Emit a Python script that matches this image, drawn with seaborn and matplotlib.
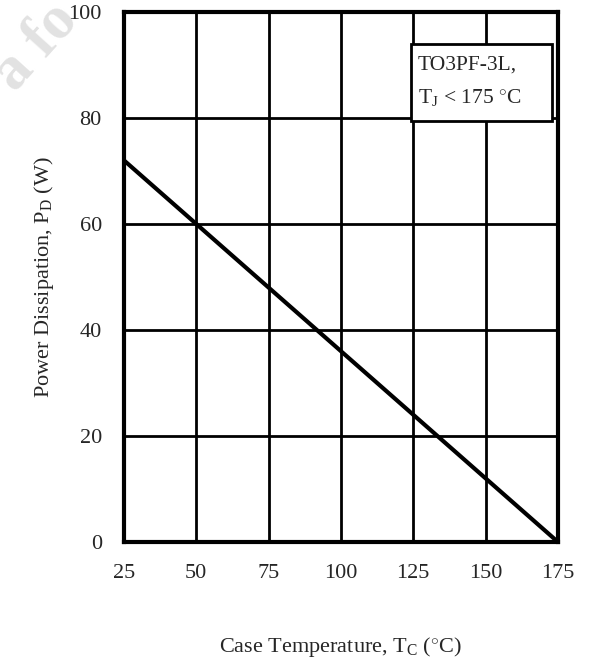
import matplotlib
matplotlib.use('Agg')
import matplotlib.pyplot as plt
import matplotlib.patches as mpatches
import seaborn as sns
import pandas as pd

case_temp = [25, 175]
power_diss = [72, 0]
x_ticks = [25, 50, 75, 100, 125, 150, 175]
y_ticks = [0, 20, 40, 60, 80, 100]

sns.set_style('white')
plt.rcParams['font.family'] = ['Liberation Serif', 'DejaVu Serif']
plt.rcParams['mathtext.fontset'] = 'custom'
plt.rcParams['mathtext.rm'] = 'Liberation Serif'
plt.rcParams['mathtext.it'] = 'Liberation Serif'

df = pd.DataFrame({'Tc': case_temp, 'Pd': power_diss})

fig = plt.figure(figsize=(6.03, 6.62), dpi=100)
ax = fig.add_axes([0.2056, 0.1813, 0.7197, 0.8006])

# faint watermark
fig.text(0.06, 0.93, 'a fo', rotation=48, color='#e2e2e2', fontsize=44,
         fontweight='bold', ha='center', va='center', zorder=-1)

sns.lineplot(data=df, x='Tc', y='Pd', color='black', linewidth=3, ax=ax, zorder=3)

ax.set_xlim(25, 175)
ax.set_ylim(0, 100)
ax.set_xticks(x_ticks)
ax.set_yticks(y_ticks)
ax.grid(True, color='black', linewidth=2)
for s in ax.spines.values():
    s.set_linewidth(3)
    s.set_color('black')
ax.tick_params(axis='x', length=0, pad=16, labelsize=16)
ax.tick_params(axis='y', length=0, pad=16, labelsize=16)

ax.set_xlabel(r'Case Temperature, T$_{\rm C}$ ($^{\circ}$C)', fontsize=16, labelpad=37)
ax.set_ylabel(r'Power Dissipation, P$_{\rm D}$ (W)', fontsize=16, labelpad=9)

# note box
box = mpatches.Rectangle((0.661, 0.794), 0.325, 0.146, transform=ax.transAxes,
                         facecolor='white', edgecolor='black', linewidth=2, zorder=4)
ax.add_patch(box)
ax.text(0.677, 0.9, 'TO3PF-3L,', transform=ax.transAxes, fontsize=15.5,
        va='center', ha='left', zorder=5)
ax.text(0.677, 0.838, r'T$_{\rm J}$ < 175 $^{\circ}$C', transform=ax.transAxes, fontsize=15.5,
        va='center', ha='left', zorder=5)

fig.savefig('out.png', dpi=100)
